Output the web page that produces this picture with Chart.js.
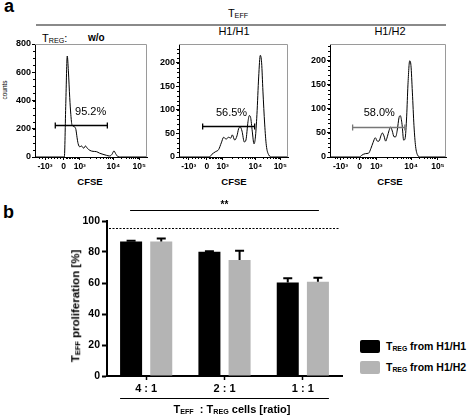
<!DOCTYPE html>
<html>
<head>
<meta charset="utf-8">
<script src="https://cdn.jsdelivr.net/npm/chart.js@4.4.0/dist/chart.umd.min.js"></script>
<style>
  body { margin: 0; background: #fff; font-family: "Liberation Sans", Arial, sans-serif; }
  #fig { position: relative; width: 473px; height: 416px; overflow: hidden; background: #fff; }
  canvas { position: absolute; }
  .t { position: absolute; white-space: nowrap; color: #000; line-height: 1; }
  .t sub { font-size: 65%; vertical-align: baseline; position: relative; top: 0.2em; }
  .c { transform: translateX(-50%); }
  .box { position: absolute; }
</style>
</head>
<body>
<div id="fig">
  <div class="t" style="left:4px;top:-3px;font-size:18px;font-weight:bold;">a</div>
  <div class="t" style="left:3px;top:203px;font-size:18px;font-weight:bold;">b</div>

  <div class="t c" style="left:238px;top:8px;font-size:11px;">T<sub>EFF</sub></div>
  <div style="position:absolute;left:36px;top:24px;width:410px;height:2px;background:#8a8a8a;"></div>

  <div class="t" style="left:42px;top:33px;font-size:11px;">T<sub>REG</sub>:</div>
  <div class="t" style="left:88px;top:33px;font-size:10px;font-weight:bold;">w/o</div>
  <div class="t c" style="left:234px;top:26px;font-size:11px;">H1/H1</div>
  <div class="t c" style="left:390px;top:26px;font-size:11px;">H1/H2</div>

  <div class="t" style="left:5px;top:90px;font-size:6.5px;transform:translate(-50%,-50%) rotate(-90deg);">counts</div>
  <div class="t c" style="left:90px;top:177px;font-size:9.5px;font-weight:bold;">CFSE</div>
  <div class="t c" style="left:234px;top:177px;font-size:9.5px;font-weight:bold;">CFSE</div>
  <div class="t c" style="left:390px;top:177px;font-size:9.5px;font-weight:bold;">CFSE</div>

  <canvas id="h1" width="152" height="155" style="left:0;top:34px;"></canvas>
  <canvas id="h2" width="143" height="155" style="left:150px;top:34px;"></canvas>
  <canvas id="h3" width="151" height="155" style="left:300px;top:34px;"></canvas>
  <canvas id="bars" width="290" height="222" style="left:60px;top:195px;"></canvas>

  <div class="t" style="left:76px;top:306px;font-size:11.5px;font-weight:bold;transform:translate(-50%,-50%) rotate(-90deg);">T<sub>EFF</sub> proliferation [%]</div>
  <div class="t c" style="left:232px;top:404px;font-size:11px;font-weight:bold;">T<sub>EFF</sub>&nbsp; : T<sub>REG</sub> cells [ratio]</div>

  <div class="box" style="left:360px;top:340px;width:20px;height:13px;background:#000;border-radius:2px;"></div>
  <div class="box" style="left:360px;top:361px;width:20px;height:13px;background:#b4b4b4;border-radius:2px;"></div>
  <div class="t" style="left:386px;top:341px;font-size:10.5px;font-weight:bold;">T<sub>REG</sub> from H1/H1</div>
  <div class="t" style="left:386px;top:362px;font-size:10.5px;font-weight:bold;">T<sub>REG</sub> from H1/H2</div>
</div>

<script>
// ---- panel a: CFSE histograms (x in display channels 0..1000, biexponential axis) ----
const cfseTickPos = [90, 255, 400, 700, 930];
const cfseTickLabels = ['-10³', '0', '10³', '10⁴', '10⁵'];

// T_REG w/o
const chanWo = [0, 250, 262, 275, 288, 298, 310, 320, 330, 354, 365, 375, 385, 400, 415, 435, 450, 467, 490, 518, 548, 577, 607, 637, 667, 688, 705, 720, 740, 765, 1000];
const countsWo = [0, 0, 0, 380, 715, 610, 420, 300, 228, 213, 195, 140, 95, 72, 78, 62, 78, 62, 47, 40, 38, 27, 19, 12, 7, 20, 43, 24, 3, 0, 0];
const ticksWo = [0, 200, 400, 600, 800];

// T_REG H1/H1
const chanH1H1 = [0, 278, 303, 333, 364, 388, 410, 431, 456, 474, 489, 511, 532, 547, 562, 578, 599, 614, 633, 645, 657, 672, 688, 700, 715, 731, 746, 758, 770, 786, 801, 822, 853, 1000];
const countsH1H1 = [0, 0, 6, 11, 16, 30, 42, 38, 42, 40, 47, 36, 45, 60, 64, 55, 32, 36, 75, 88, 84, 55, 28, 40, 90, 170, 216, 200, 140, 70, 25, 5, 0, 0];
const ticksH1H1 = [0, 50, 100, 150, 200];

// T_REG H1/H2
const chanH1H2 = [0, 253, 276, 305, 333, 353, 371, 391, 408, 422, 440, 451, 465, 480, 494, 509, 523, 537, 552, 566, 580, 595, 606, 621, 635, 647, 661, 672, 687, 698, 710, 724, 738, 755, 779, 1000];
const countsH1H2 = [0, 0, 4, 7, 8, 18, 30, 40, 33, 33, 45, 50, 44, 33, 42, 55, 62, 54, 42, 42, 56, 82, 86, 68, 35, 38, 85, 150, 200, 190, 135, 65, 22, 4, 0, 0];
const ticksH1H2 = [0, 50, 100, 150, 200];

// gates: [from, to, height], label text and label position
const gateWo = [181, 646, 227], gateLabelWo = ['95.2%', 497, 300];
const gateH1H1 = [217, 694, 66], gateLabelH1H1 = ['56.5%', 482, 88];
const gateH1H2 = [195, 645, 62], gateLabelH1H2 = ['58.0%', 425, 85];

// ---- panel b: proliferation bars ----
const ratios = ['4 : 1', '2 : 1', '1 : 1'];
const fromH1H1 = [86.8, 80.2, 60.4];
const errH1H1 = [0.4, 0.3, 2.6];
const fromH1H2 = [86.8, 74.8, 60.8];
const errH1H2 = [1.9, 6.0, 2.6];
const withoutTreg = 95.2;

const FONT = '"Liberation Sans", Arial, sans-serif';

// minor tick marks for the biexponential axis
function cfseMinor() {
  const out = [];
  for (let k = 2; k <= 9; k++) out.push(400 + 300 * Math.log10(k));
  for (let k = 2; k <= 9; k++) out.push(700 + 230 * Math.log10(k));
  for (let i = 1; i < 10; i++) out.push(400 - 14 * i);
  for (let i = 1; i < 6; i++) out.push(255 - 28 * i);
  out.push(60, 40);
  return out;
}

const histDeco = {
  id: 'histDeco',
  afterDraw(chart) {
    const o = chart.options.plugins.histDeco;
    const { ctx, chartArea: a, scales: { x, y } } = chart;
    ctx.save();
    // grey frame on top/right
    ctx.strokeStyle = '#9a9a9a';
    ctx.lineWidth = 1;
    ctx.beginPath();
    ctx.moveTo(a.left, a.top + 0.5);
    ctx.lineTo(a.right - 0.5, a.top + 0.5);
    ctx.lineTo(a.right - 0.5, a.bottom);
    ctx.stroke();
    // minor ticks
    ctx.strokeStyle = '#000';
    ctx.beginPath();
    cfseMinor().forEach(v => {
      const px = Math.round(x.getPixelForValue(v)) + 0.5;
      ctx.moveTo(px, a.bottom);
      ctx.lineTo(px, a.bottom + 2);
    });
    for (let v = o.minorY; v < y.max; v += o.minorY) {
      const py = Math.round(y.getPixelForValue(v)) + 0.5;
      ctx.moveTo(a.left - 2, py);
      ctx.lineTo(a.left, py);
    }
    ctx.stroke();
    // gate bar
    const [g0, g1, gh] = o.gate;
    const gx0 = x.getPixelForValue(g0), gx1 = x.getPixelForValue(g1);
    const gy = Math.round(y.getPixelForValue(gh)) + 0.5;
    ctx.strokeStyle = o.gateColor;
    ctx.lineWidth = 1.3;
    ctx.beginPath();
    ctx.moveTo(gx0, gy); ctx.lineTo(gx1, gy);
    ctx.moveTo(gx0, gy - 3); ctx.lineTo(gx0, gy + 3);
    ctx.moveTo(gx1, gy - 3); ctx.lineTo(gx1, gy + 3);
    ctx.stroke();
    const [txt, lx, ly] = o.label;
    ctx.fillStyle = '#000';
    ctx.font = '11px ' + FONT;
    ctx.textAlign = 'center';
    ctx.textBaseline = 'alphabetic';
    ctx.fillText(txt, x.getPixelForValue(lx), y.getPixelForValue(ly));
    ctx.restore();
  }
};

function histogram(id, chan, counts, yMax, yTicks, minorY, gate, label, gateColor, yWidth) {
  new Chart(document.getElementById(id), {
    type: 'line',
    data: {
      datasets: [{
        data: chan.map((c, i) => ({ x: c, y: counts[i] })),
        borderColor: '#000',
        borderWidth: 1,
        pointRadius: 0,
        cubicInterpolationMode: 'monotone',
        fill: false
      }]
    },
    options: {
      responsive: false,
      animation: false,
      layout: { padding: { top: 10, right: 5 } },
      plugins: {
        legend: { display: false },
        tooltip: { enabled: false },
        histDeco: { gate, label, gateColor, minorY }
      },
      scales: {
        x: {
          type: 'linear', min: 0, max: 1000,
          afterBuildTicks: s => { s.ticks = cfseTickPos.map(v => ({ value: v })); },
          afterFit: s => { s.height = 32; },
          grid: { drawOnChartArea: false, tickLength: 3, color: '#000' },
          border: { color: '#000', width: 1 },
          ticks: {
            color: '#000', padding: 2, maxRotation: 0, autoSkip: false,
            font: { family: FONT, size: 8.5, weight: 'bold' },
            callback: (v, i) => cfseTickLabels[i]
          }
        },
        y: {
          min: 0, max: yMax,
          afterBuildTicks: s => { s.ticks = yTicks.map(v => ({ value: v })); },
          afterFit: s => { s.width = yWidth; },
          grid: { drawOnChartArea: false, tickLength: 3, color: '#000' },
          border: { color: '#000', width: 1 },
          ticks: { color: '#000', padding: 1, font: { family: FONT, size: 9, weight: 'bold' } }
        }
      }
    },
    plugins: [histDeco]
  });
}

histogram('h1', chanWo, countsWo, 800, ticksWo, 50, gateWo, gateLabelWo, '#000', 35);
histogram('h2', chanH1H1, countsH1H1, 240, ticksH1H1, 10, gateH1H1, gateLabelH1H1, '#000', 29);
histogram('h3', chanH1H2, countsH1H2, 235, ticksH1H2, 10, gateH1H2, gateLabelH1H2, '#777', 30);

// error bars, reference line, significance bracket
const barDeco = {
  id: 'barDeco',
  afterDatasetsDraw(chart) {
    const { ctx, chartArea: a, scales: { y } } = chart;
    ctx.save();
    ctx.strokeStyle = '#000';
    ctx.lineWidth = 2;
    chart.data.datasets.forEach((ds, di) => {
      chart.getDatasetMeta(di).data.forEach((bar, i) => {
        const top = y.getPixelForValue(ds.data[i] + ds.errors[i]);
        ctx.beginPath();
        ctx.moveTo(bar.x, bar.y);
        ctx.lineTo(bar.x, top);
        ctx.moveTo(bar.x - 4.5, top);
        ctx.lineTo(bar.x + 4.5, top);
        ctx.stroke();
      });
    });
    // dotted line: proliferation without T_REG
    const ry = Math.round(y.getPixelForValue(withoutTreg)) + 0.5;
    ctx.lineWidth = 1.2;
    ctx.setLineDash([2, 1.5]);
    ctx.beginPath();
    ctx.moveTo(a.left + 2, ry);
    ctx.lineTo(a.right - 2, ry);
    ctx.stroke();
    ctx.setLineDash([]);
    // significance bracket
    const first = chart.getDatasetMeta(0).data[0];
    const last = chart.getDatasetMeta(1).data[2];
    const sy = Math.round(y.getPixelForValue(107)) + 0.5;
    ctx.lineWidth = 1;
    ctx.beginPath();
    ctx.moveTo(first.x - 1, sy);
    ctx.lineTo(last.x + 1, sy);
    ctx.stroke();
    ctx.fillStyle = '#000';
    ctx.font = 'bold 10px ' + FONT;
    ctx.textAlign = 'center';
    ctx.textBaseline = 'alphabetic';
    ctx.fillText('**', (first.x + last.x) / 2, sy - 3);
    // line under the ratio labels
    const first0 = chart.getDatasetMeta(0).data[0];
    const by = a.bottom + 22.5;
    ctx.beginPath();
    ctx.moveTo(first0.x - first0.width / 2, by);
    ctx.lineTo(last.x + last.width / 2, by);
    ctx.stroke();
    ctx.restore();
  }
};

new Chart(document.getElementById('bars'), {
  type: 'bar',
  data: {
    labels: ratios,
    datasets: [
      { label: 'TREG from H1/H1', data: fromH1H1, errors: errH1H1, backgroundColor: '#000' },
      { label: 'TREG from H1/H2', data: fromH1H2, errors: errH1H2, backgroundColor: '#b4b4b4' }
    ]
  },
  options: {
    responsive: false,
    animation: false,
    layout: { padding: { top: 26, right: 8 } },
    datasets: { bar: { categoryPercentage: 0.77, barPercentage: 0.73 } },
    plugins: { legend: { display: false }, tooltip: { enabled: false } },
    scales: {
      x: {
        afterFit: s => { s.height = 41; },
        grid: { drawOnChartArea: false, offset: false, tickLength: 4, tickWidth: 1.5, color: '#000' },
        border: { color: '#000', width: 2 },
        ticks: { color: '#000', padding: 2, font: { family: FONT, size: 11, weight: 'bold' } }
      },
      y: {
        min: 0, max: 100,
        afterFit: s => { s.width = 47; },
        grid: { drawOnChartArea: false, tickLength: 5, tickWidth: 2, color: '#000' },
        border: { color: '#000', width: 2 },
        ticks: { stepSize: 20, color: '#000', padding: 2, font: { family: FONT, size: 10.5, weight: 'bold' } }
      }
    }
  },
  plugins: [barDeco]
});
</script>
</body>
</html>
